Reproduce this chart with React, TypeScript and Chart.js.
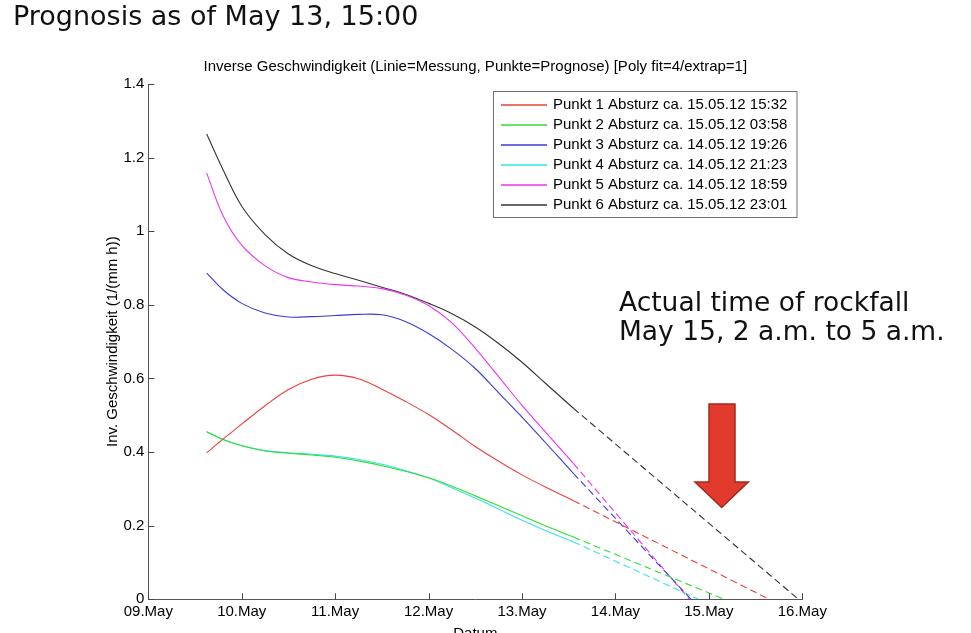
import React, { useEffect, useRef } from "react";
import { Chart, registerables } from "chart.js";

Chart.register(...registerables);

// ---- data (days since 09.May 00:00) ----
const xTickLabels = ["09.May", "10.May", "11.May", "12.May", "13.May", "14.May", "15.May", "16.May"];
const measuredDays = [0.625, 0.8, 1.0, 1.25, 1.5, 1.75, 2.0, 2.25, 2.5, 2.75, 3.0, 3.25, 3.5, 3.75, 4.0, 4.25, 4.55];

const punkt1 = [0.398, 0.435, 0.476, 0.526, 0.570, 0.598, 0.609, 0.599, 0.571, 0.538, 0.502, 0.460, 0.415, 0.375, 0.338, 0.305, 0.268];
const punkt2 = [0.455, 0.434, 0.417, 0.403, 0.397, 0.392, 0.386, 0.376, 0.363, 0.348, 0.330, 0.307, 0.281, 0.254, 0.227, 0.200, 0.169];
const punkt3 = [0.886, 0.841, 0.804, 0.778, 0.767, 0.768, 0.771, 0.774, 0.773, 0.755, 0.722, 0.679, 0.627, 0.561, 0.495, 0.426, 0.342];
const punkt4 = [0.455, 0.434, 0.418, 0.404, 0.398, 0.394, 0.389, 0.380, 0.367, 0.350, 0.330, 0.303, 0.275, 0.245, 0.215, 0.187, 0.156];
const punkt5 = [1.158, 1.042, 0.962, 0.906, 0.874, 0.862, 0.855, 0.851, 0.844, 0.827, 0.798, 0.751, 0.682, 0.605, 0.527, 0.455, 0.369];
const punkt6 = [1.264, 1.167, 1.068, 0.991, 0.938, 0.906, 0.885, 0.867, 0.848, 0.829, 0.804, 0.776, 0.740, 0.695, 0.644, 0.587, 0.519];

// predicted crash time (days since 09.May 00:00), from the legend
const crashDays = [6.647, 6.165, 5.810, 5.891, 5.791, 6.959];

const seriesLabels = [
  "Punkt 1 Absturz ca. 15.05.12 15:32",
  "Punkt 2 Absturz ca. 15.05.12 03:58",
  "Punkt 3 Absturz ca. 14.05.12 19:26",
  "Punkt 4 Absturz ca. 14.05.12 21:23",
  "Punkt 5 Absturz ca. 14.05.12 18:59",
  "Punkt 6 Absturz ca. 15.05.12 23:01",
];
const seriesColors = ["#e8403c", "#33dd33", "#3a3ad8", "#33e6e6", "#ee33ee", "#333333"];
const allSeries = [punkt1, punkt2, punkt3, punkt4, punkt5, punkt6];

const FONT = "'Liberation Sans', Arial, Helvetica, sans-serif";

const matlabPlugin = {
  id: "matlabDecor",
  afterDraw(chart: any) {
    const { ctx, chartArea } = chart;
    const xs = chart.scales.x;
    const ys = chart.scales.y;
    ctx.save();
    ctx.setLineDash([]);
    // inner tick marks
    ctx.fillStyle = "#444";
    const tl = 6;
    xs.ticks.forEach((t: any) => {
      const px = Math.round(xs.getPixelForValue(t.value));
      ctx.fillRect(px, chartArea.bottom - tl, 1, tl);
    });
    ys.ticks.forEach((t: any) => {
      const py = Math.round(ys.getPixelForValue(t.value));
      ctx.fillRect(chartArea.left, py, tl, 1);
    });

    // legend box (MATLAB style, inside top-right)
    ctx.font = `15px ${FONT}`;
    let maxW = 0;
    seriesLabels.forEach((l) => {
      maxW = Math.max(maxW, ctx.measureText(l).width);
    });
    const boxW = Math.max(303.5, 65 + maxW);
    const rowH = 20;
    const boxH = seriesLabels.length * rowH + 6;
    const right = chartArea.right - 6;
    const left = Math.round(right - boxW);
    const top = Math.round(chartArea.top + 6.7);
    ctx.fillStyle = "#fff";
    ctx.fillRect(left, top, boxW, boxH);
    ctx.strokeStyle = "#707070";
    ctx.lineWidth = 1;
    ctx.strokeRect(left + 0.5, top + 0.5, boxW, boxH);
    seriesLabels.forEach((l, i) => {
      const cy = top + 13.6 + i * rowH;
      ctx.strokeStyle = seriesColors[i];
      ctx.lineWidth = 1.6;
      ctx.beginPath();
      ctx.moveTo(left + 8, Math.round(cy));
      ctx.lineTo(left + 54, Math.round(cy));
      ctx.stroke();
      ctx.fillStyle = "#000";
      ctx.textBaseline = "middle";
      ctx.textAlign = "left";
      ctx.fillText(l, left + 60, cy);
    });
    ctx.restore();
  },
};

export default function App() {
  const canvasRef = useRef<HTMLCanvasElement | null>(null);

  useEffect(() => {
    if (!canvasRef.current) return;
    const datasets: any[] = [];
    allSeries.forEach((s, i) => {
      datasets.push({
        label: seriesLabels[i],
        data: measuredDays.map((d, j) => ({ x: d, y: s[j] })),
        borderColor: seriesColors[i],
        borderWidth: 1.1,
        pointRadius: 0,
        tension: 0.35,
        fill: false,
      });
    });
    allSeries.forEach((s, i) => {
      const lastX = measuredDays[measuredDays.length - 1];
      const lastY = s[s.length - 1];
      datasets.push({
        label: seriesLabels[i] + " (Prognose)",
        data: [
          { x: lastX, y: lastY },
          { x: crashDays[i], y: 0 },
        ],
        borderColor: seriesColors[i],
        borderWidth: 1.1,
        borderDash: [7, 4],
        pointRadius: 0,
        tension: 0,
        fill: false,
      });
    });

    const chart = new Chart(canvasRef.current, {
      type: "line",
      data: { datasets },
      options: {
        animation: false,
        responsive: false,
        devicePixelRatio: 1,
        layout: { padding: { left: 100, right: 168.7, top: 0, bottom: 0 } },
        plugins: {
          legend: { display: false },
          tooltip: { enabled: false },
          title: {
            display: true,
            fullSize: false,
            text: "Inverse Geschwindigkeit (Linie=Messung, Punkte=Prognose) [Poly fit=4/extrap=1]",
            color: "#000",
            font: { family: FONT, size: 15, weight: "normal" },
            padding: { top: 58, bottom: 8 },
          },
        },
        scales: {
          x: {
            type: "linear",
            min: 0,
            max: 7,
            grid: { display: false, drawTicks: false },
            border: { display: true, color: "#555", width: 1 },
            ticks: {
              stepSize: 1,
              color: "#000",
              font: { family: FONT, size: 15 },
              padding: 4,
              maxRotation: 0,
              autoSkip: false,
              callback: (v: any) => xTickLabels[Math.round(Number(v))] ?? "",
            },
            title: {
              display: true,
              text: "Datum",
              color: "#000",
              font: { family: FONT, size: 15 },
              padding: { top: 4, bottom: 4 },
            },
            afterFit: (scale: any) => {
              scale.height = 47.7;
            },
          },
          y: {
            type: "linear",
            min: 0,
            max: 1.4,
            grid: { display: false, drawTicks: false },
            border: { display: true, color: "#555", width: 1 },
            ticks: {
              stepSize: 0.2,
              color: "#000",
              font: { family: FONT, size: 15 },
              padding: 4,
              callback: (v: any) => String(Number(Number(v).toFixed(1))),
            },
            title: {
              display: true,
              text: "Inv. Geschwindigkeit (1/(mm h))",
              color: "#000",
              font: { family: FONT, size: 15 },
              padding: { top: 4, bottom: 4 },
            },
            afterFit: (scale: any) => {
              scale.width = 48.3;
            },
          },
        },
      },
      plugins: [matlabPlugin],
    });
    return () => chart.destroy();
  }, []);

  return (
    <div
      style={{
        position: "absolute",
        left: 0,
        top: 0,
        width: 971,
        height: 633,
        overflow: "hidden",
        background: "#fff",
      }}
    >
      <canvas
        ref={canvasRef}
        width={971}
        height={647}
        style={{ position: "absolute", left: 0, top: 0, width: 971, height: 647 }}
      />
      <div
        style={{
          position: "absolute",
          left: 13,
          top: 2,
          fontFamily: "'DejaVu Sans', Verdana, sans-serif",
          fontSize: 27,
          lineHeight: "27px",
          color: "#111",
          whiteSpace: "nowrap",
        }}
      >
        Prognosis as of May 13, 15:00
      </div>
      <div
        style={{
          position: "absolute",
          left: 619,
          top: 288.4,
          fontFamily: "'DejaVu Sans', Verdana, sans-serif",
          fontSize: 26.5,
          lineHeight: "28.3px",
          color: "#111",
          whiteSpace: "nowrap",
        }}
      >
        Actual time of rockfall
        <br />
        May 15, 2 a.m. to 5 a.m.
      </div>
      <svg
        width={971}
        height={633}
        style={{ position: "absolute", left: 0, top: 0, pointerEvents: "none" }}
      >
        <polygon
          points="709,404 735,404 735,482 748.3,482 721.7,507.5 695,482 709,482"
          fill="#e23b2e"
          stroke="#9e2a20"
          strokeWidth={1.5}
        />
      </svg>
    </div>
  );
}
